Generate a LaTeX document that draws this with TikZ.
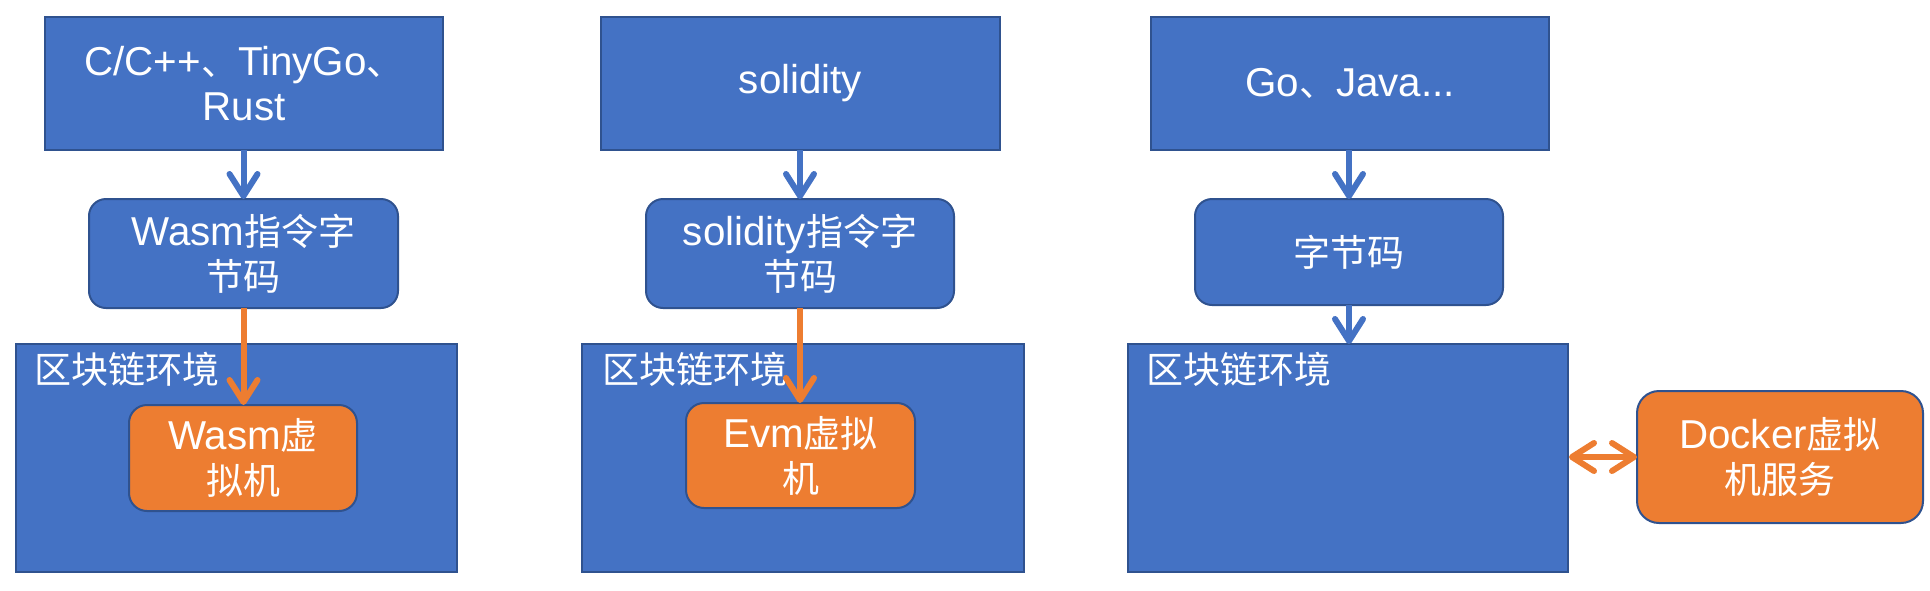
\documentclass[tikz,border=0pt]{standalone}
\usepackage{fontspec}
\setmainfont{Liberation Sans}[Scale=1.09]
\newfontfamily\cjk{Noto Sans CJK SC}
\usetikzlibrary{arrows.meta}
\definecolor{myblue}{HTML}{4472C4}
\definecolor{myborder}{HTML}{2F528F}
\definecolor{myorange}{HTML}{ED7D31}
\tikzset{
  box/.style={draw=myborder, line width=2pt, fill=myblue, text=white, align=center,
    inner sep=0pt, outer sep=0pt, font=\fontsize{37}{45}\selectfont},
  rbox/.style={box, rounded corners=17pt},
  obox/.style={box, fill=myorange, rounded corners=18pt},
  envlbl/.style={text=white, inner sep=0pt, anchor=west, font=\fontsize{37}{45}\selectfont\cjk},
  tipb/.tip={Straight Barb[length=22pt,width=28pt,round]},
  barrow/.style={draw=myblue, line width=6pt, -tipb},
  oarrow/.style={draw=myorange, line width=6pt, -tipb},
  darrow/.style={draw=myorange, line width=6pt, tipb-tipb},
}
\begin{document}
\begin{tikzpicture}[x=1pt,y=-1pt]
\useasboundingbox (0,0) rectangle (1930,590);
% column 1
\node[box, minimum width=398pt, minimum height=133pt] (top1) at (244,83.5) {C/C++{\cjk 、}TinyGo{\cjk 、}\\Rust};
\node[rbox, minimum width=309pt, minimum height=109pt] (rnd1) at (243.5,253.5) {Wasm{\cjk 指令字}\\{\cjk 节码}};
\node[box, minimum width=441pt, minimum height=228pt] (env1) at (236.5,458) {};
\node[envlbl] (lbl1) at ([xshift=18pt,yshift=-25pt]env1.north west) {区块链环境};
\node[obox, minimum width=228pt, minimum height=106pt] (vm1) at (243,458) {Wasm{\cjk 虚}\\{\cjk 拟机}};
\draw[barrow] (rnd1.north |- top1.south) -- (rnd1.north);
\draw[oarrow] (rnd1.south) -- (rnd1.south |- vm1.north);
% column 2
\node[box, minimum width=399pt, minimum height=133pt] (top2) at (800.5,83.5) {solidity};
\node[rbox, minimum width=308pt, minimum height=109pt] (rnd2) at (800,253.5) {solidity{\cjk 指令字}\\{\cjk 节码}};
\node[box, minimum width=442pt, minimum height=228pt] (env2) at (803,458) {};
\node[envlbl] (lbl2) at ([xshift=20pt,yshift=-25pt]env2.north west) {区块链环境};
\node[obox, minimum width=229pt, minimum height=105pt] (vm2) at (800.5,455.5) {Evm{\cjk 虚拟}\\{\cjk 机}};
\draw[barrow] (rnd2.north |- top2.south) -- (rnd2.north);
\draw[oarrow] (rnd2.south) -- (rnd2.south |- vm2.north);
% column 3
\node[box, minimum width=398pt, minimum height=133pt] (top3) at (1350,83.5) {Go{\cjk 、}Java...};
\node[rbox, minimum width=308pt, minimum height=106pt] (rnd3) at (1349,252) {{\cjk 字节码}};
\node[box, minimum width=440pt, minimum height=228pt] (env3) at (1348,458) {};
\node[envlbl] (lbl3) at ([xshift=18pt,yshift=-25pt]env3.north west) {区块链环境};
\node[obox, rounded corners=22pt, minimum width=286pt, minimum height=132pt] (dock) at (1780,457) {Docker{\cjk 虚拟}\\{\cjk 机服务}};
\draw[barrow] (rnd3.north |- top3.south) -- (rnd3.north);
\draw[barrow] (rnd3.south) -- (rnd3.south |- env3.north);
\coordinate (da) at ([xshift=1pt]env3.east |- dock.west);
\draw[darrow] (da) -- (dock.west);
\end{tikzpicture}
\end{document}
